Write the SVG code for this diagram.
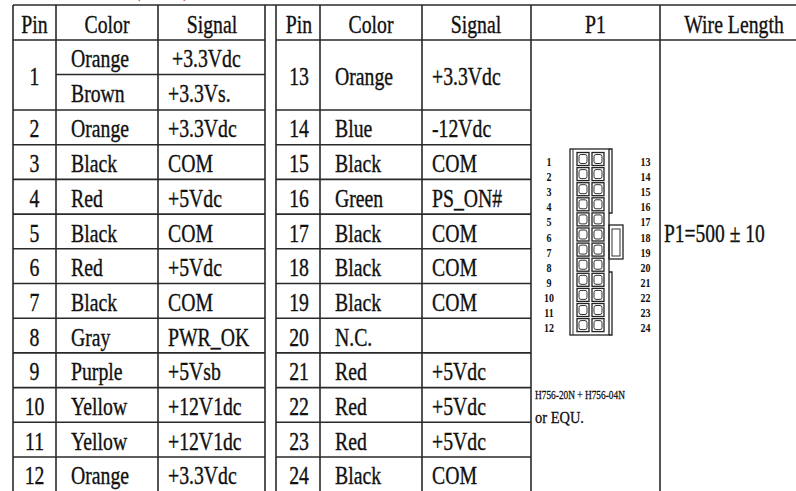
<svg xmlns="http://www.w3.org/2000/svg" width="796" height="491" viewBox="0 0 796 491">
<style>
.bg{fill:#fff}
.grid{stroke:#2a2a2a;stroke-width:1.6;fill:none}
.t{font-family:"Liberation Serif","Times New Roman",serif;font-size:25px;fill:#111;stroke:#111;stroke-width:0.35}
.c{text-anchor:middle}
.red{font-family:"Liberation Serif","Times New Roman",serif;font-size:25px;fill:#e01010}
.body{stroke:#222;stroke-width:1.3;fill:none}
.thin{stroke:#333;stroke-width:1;fill:none}
.pn{font-family:"Liberation Serif","Times New Roman",serif;font-size:12.5px;font-weight:bold;fill:#111;text-anchor:middle}
.note{font-family:"Liberation Serif","Times New Roman",serif;fill:#111;stroke:#111;stroke-width:0.3}
</style>
<defs>
<g id="cell">
<rect x="0" y="0" width="12" height="13" class="body"/>
<rect x="2" y="2" width="8" height="9" rx="2" class="thin"/>
</g>
</defs>
<rect class="bg" x="0" y="0" width="796" height="491"/>
<g id="title-fragment">
<text class="red" transform="translate(134,-4) scale(.79,1)">(</text>
<text class="red" transform="translate(183,-4) scale(.79,1)">)</text>
</g>
<g id="grid" class="grid">
<path d="M13,5H796"/>
<path d="M13,40H265M13,110H265M13,144.7H265M13,179.4H265M13,214.1H265M13,248.8H265M13,283.5H265M13,318.2H265M13,352.9H265M13,387.6H265M13,422.3H265M13,457H265"/>
<path d="M56,74.5H265"/>
<path d="M276,40H531M276,110H531M276,144.7H531M276,179.4H531M276,214.1H531M276,248.8H531M276,283.5H531M276,318.2H531M276,352.9H531M276,387.6H531M276,422.3H531M276,457H531"/>
<path d="M531,40H796"/>
<path d="M13,5V491M56,40V491M158,40V491M265,5V491M276,5V491M320,40V491M422,40V491M531,5V491M660,5V491"/>
<path d="M56,5V40M158,5V40M320,5V40M422,5V40"/>
</g>
<g id="header">
<text class="t c" transform="translate(34.5,33) scale(.79,1)">Pin</text>
<text class="t c" transform="translate(107,33) scale(.79,1)">Color</text>
<text class="t c" transform="translate(212,33) scale(.79,1)">Signal</text>
<text class="t c" transform="translate(299,33) scale(.79,1)">Pin</text>
<text class="t c" transform="translate(371,33) scale(.79,1)">Color</text>
<text class="t c" transform="translate(476,33) scale(.79,1)">Signal</text>
<text class="t c" transform="translate(595.5,33) scale(.79,1)">P1</text>
<text class="t c" transform="translate(734,33) scale(.79,1)">Wire Length</text>
</g>
<g id="pin1">
<text class="t c" transform="translate(34.5,85) scale(.79,1)">1</text>
<text class="t" transform="translate(71,67.3) scale(.79,1)">Orange</text>
<text class="t" transform="translate(172,67.3) scale(.79,1)">+3.3Vdc</text>
<text class="t" transform="translate(71,102.3) scale(.79,1)">Brown</text>
<text class="t" transform="translate(168,102.3) scale(.79,1)">+3.3Vs.</text>
</g>
<g id="pin2"><text class="t c" transform="translate(34.5,137.4) scale(.79,1)">2</text><text class="t" transform="translate(71,137.4) scale(.79,1)">Orange</text><text class="t" transform="translate(168,137.4) scale(.79,1)">+3.3Vdc</text></g>
<g id="pin3"><text class="t c" transform="translate(34.5,172.1) scale(.79,1)">3</text><text class="t" transform="translate(71,172.1) scale(.79,1)">Black</text><text class="t" transform="translate(168,172.1) scale(.79,1)">COM</text></g>
<g id="pin4"><text class="t c" transform="translate(34.5,206.8) scale(.79,1)">4</text><text class="t" transform="translate(71,206.8) scale(.79,1)">Red</text><text class="t" transform="translate(168,206.8) scale(.79,1)">+5Vdc</text></g>
<g id="pin5"><text class="t c" transform="translate(34.5,241.5) scale(.79,1)">5</text><text class="t" transform="translate(71,241.5) scale(.79,1)">Black</text><text class="t" transform="translate(168,241.5) scale(.79,1)">COM</text></g>
<g id="pin6"><text class="t c" transform="translate(34.5,276.2) scale(.79,1)">6</text><text class="t" transform="translate(71,276.2) scale(.79,1)">Red</text><text class="t" transform="translate(168,276.2) scale(.79,1)">+5Vdc</text></g>
<g id="pin7"><text class="t c" transform="translate(34.5,310.9) scale(.79,1)">7</text><text class="t" transform="translate(71,310.9) scale(.79,1)">Black</text><text class="t" transform="translate(168,310.9) scale(.79,1)">COM</text></g>
<g id="pin8"><text class="t c" transform="translate(34.5,345.6) scale(.79,1)">8</text><text class="t" transform="translate(71,345.6) scale(.79,1)">Gray</text><text class="t" transform="translate(168,345.6) scale(.79,1)">PWR_OK</text></g>
<g id="pin9"><text class="t c" transform="translate(34.5,380.3) scale(.79,1)">9</text><text class="t" transform="translate(71,380.3) scale(.79,1)">Purple</text><text class="t" transform="translate(168,380.3) scale(.79,1)">+5Vsb</text></g>
<g id="pin10"><text class="t c" transform="translate(34.5,415) scale(.79,1)">10</text><text class="t" transform="translate(71,415) scale(.79,1)">Yellow</text><text class="t" transform="translate(168,415) scale(.79,1)">+12V1dc</text></g>
<g id="pin11"><text class="t c" transform="translate(34.5,449.7) scale(.79,1)">11</text><text class="t" transform="translate(71,449.7) scale(.79,1)">Yellow</text><text class="t" transform="translate(168,449.7) scale(.79,1)">+12V1dc</text></g>
<g id="pin12"><text class="t c" transform="translate(34.5,484.4) scale(.79,1)">12</text><text class="t" transform="translate(71,484.4) scale(.79,1)">Orange</text><text class="t" transform="translate(168,484.4) scale(.79,1)">+3.3Vdc</text></g>
<g id="pin13"><text class="t c" transform="translate(299,85) scale(.79,1)">13</text><text class="t" transform="translate(335,85) scale(.79,1)">Orange</text><text class="t" transform="translate(432,85) scale(.79,1)">+3.3Vdc</text></g>
<g id="pin14"><text class="t c" transform="translate(299,137.4) scale(.79,1)">14</text><text class="t" transform="translate(335,137.4) scale(.79,1)">Blue</text><text class="t" transform="translate(432,137.4) scale(.79,1)">-12Vdc</text></g>
<g id="pin15"><text class="t c" transform="translate(299,172.1) scale(.79,1)">15</text><text class="t" transform="translate(335,172.1) scale(.79,1)">Black</text><text class="t" transform="translate(432,172.1) scale(.79,1)">COM</text></g>
<g id="pin16"><text class="t c" transform="translate(299,206.8) scale(.79,1)">16</text><text class="t" transform="translate(335,206.8) scale(.79,1)">Green</text><text class="t" transform="translate(432,206.8) scale(.79,1)">PS_ON#</text></g>
<g id="pin17"><text class="t c" transform="translate(299,241.5) scale(.79,1)">17</text><text class="t" transform="translate(335,241.5) scale(.79,1)">Black</text><text class="t" transform="translate(432,241.5) scale(.79,1)">COM</text></g>
<g id="pin18"><text class="t c" transform="translate(299,276.2) scale(.79,1)">18</text><text class="t" transform="translate(335,276.2) scale(.79,1)">Black</text><text class="t" transform="translate(432,276.2) scale(.79,1)">COM</text></g>
<g id="pin19"><text class="t c" transform="translate(299,310.9) scale(.79,1)">19</text><text class="t" transform="translate(335,310.9) scale(.79,1)">Black</text><text class="t" transform="translate(432,310.9) scale(.79,1)">COM</text></g>
<g id="pin20"><text class="t c" transform="translate(299,345.6) scale(.79,1)">20</text><text class="t" transform="translate(335,345.6) scale(.79,1)">N.C.</text></g>
<g id="pin21"><text class="t c" transform="translate(299,380.3) scale(.79,1)">21</text><text class="t" transform="translate(335,380.3) scale(.79,1)">Red</text><text class="t" transform="translate(432,380.3) scale(.79,1)">+5Vdc</text></g>
<g id="pin22"><text class="t c" transform="translate(299,415) scale(.79,1)">22</text><text class="t" transform="translate(335,415) scale(.79,1)">Red</text><text class="t" transform="translate(432,415) scale(.79,1)">+5Vdc</text></g>
<g id="pin23"><text class="t c" transform="translate(299,449.7) scale(.79,1)">23</text><text class="t" transform="translate(335,449.7) scale(.79,1)">Red</text><text class="t" transform="translate(432,449.7) scale(.79,1)">+5Vdc</text></g>
<g id="pin24"><text class="t c" transform="translate(299,484.4) scale(.79,1)">24</text><text class="t" transform="translate(335,484.4) scale(.79,1)">Black</text><text class="t" transform="translate(432,484.4) scale(.79,1)">COM</text></g>
<g id="p1-connector">
<rect x="570" y="149" width="39" height="186" class="body"/>
<path d="M573,149V335" class="thin"/>
<path d="M609,149H612V213H609M609,272H612V335H609" class="body"/>
<rect x="609" y="225" width="14" height="34" class="body"/>
<rect x="612" y="229" width="8" height="27" class="thin"/>
<use href="#cell" x="577" y="152.5"/><use href="#cell" x="592" y="152.5"/>
<use href="#cell" x="577" y="167.6"/><use href="#cell" x="592" y="167.6"/>
<use href="#cell" x="577" y="182.7"/><use href="#cell" x="592" y="182.7"/>
<use href="#cell" x="577" y="197.8"/><use href="#cell" x="592" y="197.8"/>
<use href="#cell" x="577" y="212.9"/><use href="#cell" x="592" y="212.9"/>
<use href="#cell" x="577" y="228"/><use href="#cell" x="592" y="228"/>
<use href="#cell" x="577" y="243.1"/><use href="#cell" x="592" y="243.1"/>
<use href="#cell" x="577" y="258.2"/><use href="#cell" x="592" y="258.2"/>
<use href="#cell" x="577" y="273.3"/><use href="#cell" x="592" y="273.3"/>
<use href="#cell" x="577" y="288.4"/><use href="#cell" x="592" y="288.4"/>
<use href="#cell" x="577" y="303.5"/><use href="#cell" x="592" y="303.5"/>
<use href="#cell" x="577" y="318.6"/><use href="#cell" x="592" y="318.6"/>
<g id="pin-labels-left">
<text class="pn" transform="translate(549,166) scale(.8,1)">1</text>
<text class="pn" transform="translate(549,181.1) scale(.8,1)">2</text>
<text class="pn" transform="translate(549,196.2) scale(.8,1)">3</text>
<text class="pn" transform="translate(549,211.3) scale(.8,1)">4</text>
<text class="pn" transform="translate(549,226.4) scale(.8,1)">5</text>
<text class="pn" transform="translate(549,241.5) scale(.8,1)">6</text>
<text class="pn" transform="translate(549,256.6) scale(.8,1)">7</text>
<text class="pn" transform="translate(549,271.7) scale(.8,1)">8</text>
<text class="pn" transform="translate(549,286.8) scale(.8,1)">9</text>
<text class="pn" transform="translate(549,301.9) scale(.8,1)">10</text>
<text class="pn" transform="translate(549,317) scale(.8,1)">11</text>
<text class="pn" transform="translate(549,332.1) scale(.8,1)">12</text>
</g>
<g id="pin-labels-right">
<text class="pn" transform="translate(645.5,166) scale(.8,1)">13</text>
<text class="pn" transform="translate(645.5,181.1) scale(.8,1)">14</text>
<text class="pn" transform="translate(645.5,196.2) scale(.8,1)">15</text>
<text class="pn" transform="translate(645.5,211.3) scale(.8,1)">16</text>
<text class="pn" transform="translate(645.5,226.4) scale(.8,1)">17</text>
<text class="pn" transform="translate(645.5,241.5) scale(.8,1)">18</text>
<text class="pn" transform="translate(645.5,256.6) scale(.8,1)">19</text>
<text class="pn" transform="translate(645.5,271.7) scale(.8,1)">20</text>
<text class="pn" transform="translate(645.5,286.8) scale(.8,1)">21</text>
<text class="pn" transform="translate(645.5,301.9) scale(.8,1)">22</text>
<text class="pn" transform="translate(645.5,317) scale(.8,1)">23</text>
<text class="pn" transform="translate(645.5,332.1) scale(.8,1)">24</text>
</g>
</g>
<g id="p1-note">
<text class="note" font-size="13" transform="translate(535,399) scale(.72,1)">H756-20N + H756-04N</text>
<text class="note" font-size="17" transform="translate(535,423) scale(.85,1)">or EQU.</text>
</g>
<g id="wire-length">
<text class="t" transform="translate(664,242) scale(.78,1)">P1=500 ± 10</text>
</g>
</svg>
